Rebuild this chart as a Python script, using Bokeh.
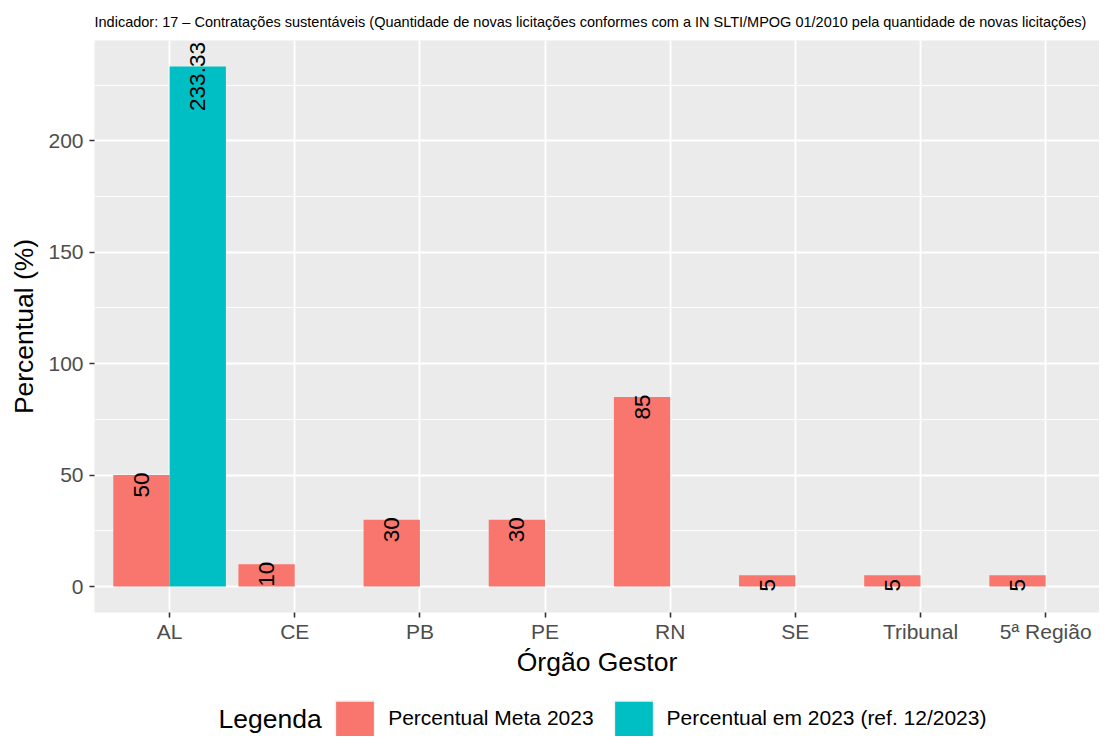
import numpy as np
from bokeh.plotting import figure
from bokeh.layouts import column
from bokeh.models import Range1d, FixedTicker, Label, Legend, LegendItem, ColumnDataSource
from bokeh.embed import file_html
from bokeh.resources import INLINE
from bokeh.core.properties import value

# ---------------- data ----------------
categories = ["AL", "CE", "PB", "PE", "RN", "SE", "Tribunal", "5ª Região"]
meta_2023 = [50, 10, 30, 30, 85, 5, 5, 5]
realizado_categories = ["AL"]
realizado_2023 = [233.33]
y_ticks = [0, 50, 100, 150, 200]
y_minor_ticks = [25, 75, 125, 175, 225]
series_names = ["Percentual Meta 2023", "Percentual em 2023 (ref. 12/2023)"]
title_text = ("Indicador: 17 – Contratações sustentáveis (Quantidade de novas licitações "
              "conformes com a IN SLTI/MPOG 01/2010 pela quantidade de novas licitações)")
x_title = "Órgão Gestor"
y_title = "Percentual (%)"
legend_title = "Legenda"

# ---------------- styling ----------------
FONT = "Liberation Sans"
PINK = "#F8766D"
TEAL = "#00BFC4"
PANEL = "#EBEBEB"
KEY_BG = "#F2F2F2"
BAR_W = 0.45

W = 1099
H1, H2 = 690, 46
FL, FT = 94, 40
FB = H1 - 612

def fmt(v):
    return str(int(v)) if float(v).is_integer() else f"{v:.2f}"

pos = {c: i + 1 for i, c in enumerate(categories)}
ymax = max(max(meta_2023), max(realizado_2023))

src_meta = ColumnDataSource(dict(
    x=[pos[c] - BAR_W / 2 for c in categories],
    top=meta_2023,
    label=[fmt(v) for v in meta_2023],
))
src_real = ColumnDataSource(dict(
    x=[pos[c] + BAR_W / 2 for c in realizado_categories],
    top=realizado_2023,
    label=[fmt(v) for v in realizado_2023],
))

p = figure(width=W, height=H1, output_backend="svg", toolbar_location=None,
           x_range=Range1d(0.4, 8.43), y_range=Range1d(-ymax * 0.05, ymax * 1.05),
           min_border_left=FL, min_border_top=FT, min_border_bottom=FB, min_border_right=0)
p.outline_line_color = None
p.background_fill_color = PANEL
p.border_fill_color = "white"

# title
p.title.text = title_text
p.title.align = "left"
p.title.text_font = FONT
p.title.text_font_size = "14.5px"
p.title.text_font_style = "normal"
p.title.text_color = "black"
p.title.standoff = 21

r1 = p.vbar(x="x", top="top", bottom=0, width=BAR_W, source=src_meta,
            fill_color=PINK, line_color=None)
r2 = p.vbar(x="x", top="top", bottom=0, width=BAR_W, source=src_real,
            fill_color=TEAL, line_color=None)

for src in (src_meta, src_real):
    p.text(x="x", y="top", text="label", source=src, angle=np.pi / 2,
           text_align="center", text_baseline="middle", y_offset=10,
           text_font=value(FONT), text_font_size="22.5px", text_color="black")

# grid
p.xgrid.ticker = FixedTicker(ticks=[pos[c] for c in categories])
p.xgrid.grid_line_color = "white"
p.xgrid.grid_line_width = 1.8
p.ygrid.ticker = FixedTicker(ticks=y_ticks, minor_ticks=y_minor_ticks)
p.ygrid.grid_line_color = "white"
p.ygrid.grid_line_width = 1.8
p.ygrid.minor_grid_line_color = "white"
p.ygrid.minor_grid_line_width = 0.9

# axes
for ax in (p.xaxis[0], p.yaxis[0]):
    ax.axis_line_color = None
    ax.major_tick_in = 0
    ax.major_tick_out = 5
    ax.major_tick_line_color = "#333333"
    ax.major_tick_line_width = 1.6
    ax.minor_tick_line_color = None
    ax.major_label_text_font = FONT
    ax.major_label_text_font_size = "21px"
    ax.major_label_text_color = "#4D4D4D"
    ax.axis_label_text_font = FONT
    ax.axis_label_text_font_size = "26.5px"
    ax.axis_label_text_font_style = "normal"
    ax.axis_label_text_color = "black"

p.xaxis.ticker = FixedTicker(ticks=[pos[c] for c in categories])
p.xaxis.major_label_overrides = {pos[c]: c for c in categories}
p.xaxis.major_label_standoff = 2
p.xaxis.axis_label = x_title
p.xaxis.axis_label_standoff = 1

p.yaxis.ticker = FixedTicker(ticks=y_ticks)
p.yaxis.major_label_standoff = 6
p.yaxis.axis_label = y_title
p.yaxis.axis_label_standoff = 6

# ---------------- legend strip ----------------
q = figure(width=W, height=H2, output_backend="svg", toolbar_location=None,
           x_range=Range1d(0, 1), y_range=Range1d(0, 1), title=None,
           x_axis_type=None, y_axis_type=None, min_border=0, min_border_left=FL)
q.outline_line_color = None
q.background_fill_color = "white"
q.border_fill_color = "white"
key_src = ColumnDataSource(dict(x=np.array([np.nan]), top=np.array([np.nan])))
k1 = q.vbar(x="x", top="top", width=0.1, source=key_src, fill_color=PINK,
            line_color=KEY_BG, line_width=1.5)
k2 = q.vbar(x="x", top="top", width=0.1, source=key_src, fill_color=TEAL,
            line_color=KEY_BG, line_width=1.5)
# Bokeh insets area glyphs by 10% on each side of the glyph box
GW, GH = 39 / 0.8, 36 / 0.8
legend = Legend(items=[LegendItem(label=series_names[0], renderers=[k1]),
                       LegendItem(label=series_names[1], renderers=[k2])],
                orientation="horizontal", location=(335 - GW * 0.1 - FL, -GH * 0.1),
                glyph_width=int(round(GW)), glyph_height=int(round(GH)),
                label_standoff=9, spacing=15,
                padding=0, margin=0, border_line_color=None, background_fill_alpha=0,
                label_text_font=FONT, label_text_font_size="21px",
                label_text_color="black", label_height=int(round(GH)))
q.add_layout(legend)
q.add_layout(Label(x=218 - FL, y=18, x_units="screen", y_units="screen",
                   text=legend_title, text_font=FONT, text_font_size="26.5px",
                   text_baseline="middle", text_align="left", text_color="black"))

layout = column(p, q, spacing=0)
open("out.html", "w").write(file_html(layout, INLINE))
